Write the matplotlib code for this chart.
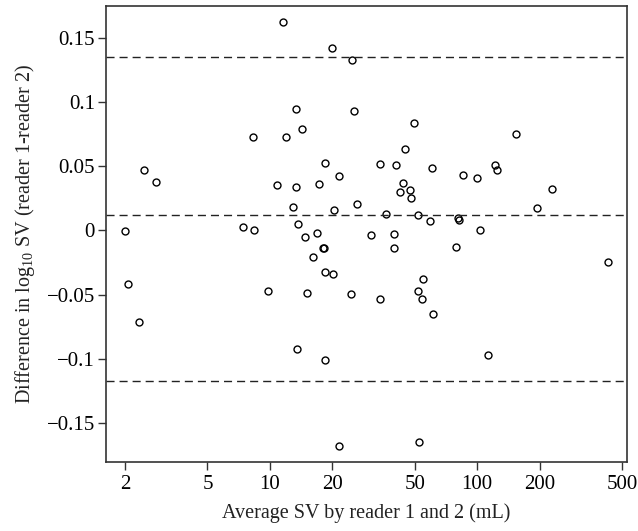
import numpy as np
import matplotlib.pyplot as plt
from matplotlib.ticker import FixedLocator, FixedFormatter, NullLocator

plt.rcParams['font.family'] = ['Liberation Serif', 'DejaVu Serif']
plt.rcParams['mathtext.default'] = 'regular'

# average SV (mL) by reader 1 and 2
avg_sv = [11.60, 2.00, 2.48, 2.81, 8.30, 11.96, 13.33, 14.29, 10.85, 13.38,
          17.20, 12.93, 7.42, 8.41, 13.62, 14.80, 16.91, 16.09, 20.04, 24.98,
          25.54, 49.73, 153.6, 44.94, 18.44, 34.16, 40.58, 60.86, 121.9, 125.0,
          21.66, 85.4, 100.0, 44.10, 42.42, 47.57, 48.10, 229.0, 26.41, 20.31,
          193.9, 36.31, 51.82, 59.07, 80.82, 81.99, 102.8, 30.74, 39.82, 18.08,
          18.20, 39.82, 79.06, 427.6, 18.44, 20.16, 2.06, 2.35, 9.79, 15.05,
          24.62, 33.87, 13.59, 18.50, 21.62, 54.96, 51.98, 54.36, 61.20, 112.4,
          52.68]

# difference in log10 SV (reader 1 - reader 2)
diff_log = [0.1626, -0.0005, 0.0473, 0.0382, 0.0729, 0.0731, 0.0945, 0.0788, 0.0351, 0.0339,
            0.0364, 0.0181, 0.0025, 0.0003, 0.0052, -0.0051, -0.0022, -0.0204, 0.1423, 0.1328,
            0.0936, 0.0840, 0.0749, 0.0635, 0.0524, 0.0518, 0.0507, 0.0488, 0.0510, 0.0471,
            0.0423, 0.0436, 0.0413, 0.0367, 0.0304, 0.0316, 0.0255, 0.0323, 0.0207, 0.0161,
            0.0176, 0.0128, 0.0122, 0.0073, 0.0099, 0.0080, 0.0007, -0.0036, -0.0026, -0.0133,
            -0.0140, -0.0133, -0.0129, -0.0246, -0.0324, -0.0340, -0.0417, -0.0712, -0.0476, -0.0491,
            -0.0496, -0.0533, -0.0927, -0.1012, -0.1679, -0.0377, -0.0473, -0.0533, -0.0652, -0.0975,
            -0.1648]

# mean difference and limits of agreement
ref_lines = [0.1352, 0.0122, -0.1174]

x_ticks = [2, 5, 10, 20, 50, 100, 200, 500]
x_labels = ['2', '5', '10', '20', '50', '100', '200', '500']
y_ticks = [-0.15, -0.1, -0.05, 0, 0.05, 0.1, 0.15]
y_labels = ['\u22120.15', '\u22120.1', '\u22120.05', '0', '0.05', '0.1', '0.15']

fig = plt.figure(figsize=(6.38, 5.31), dpi=100)
ax = fig.add_axes([0.1661, 0.1294, 0.8167, 0.8599])

ax.plot(avg_sv, diff_log, linestyle='none', marker='o', markersize=5,
        markerfacecolor='none', markeredgecolor='black', markeredgewidth=1)

for yv in ref_lines:
    ax.axhline(yv, color='#222222', linewidth=1, dashes=(5.8, 3.6))

ax.set_xscale('log')
ax.set_xlim(1.62, 528)
ax.set_ylim(-0.1809, 0.1754)

ax.xaxis.set_major_locator(FixedLocator(x_ticks))
ax.xaxis.set_major_formatter(FixedFormatter(x_labels))
ax.xaxis.set_minor_locator(NullLocator())
ax.yaxis.set_major_locator(FixedLocator(y_ticks))
ax.yaxis.set_major_formatter(FixedFormatter(y_labels))

ax.tick_params(axis='both', direction='out', length=5.5, width=1,
               color='#333333', labelsize=15, pad=2.5)
ax.tick_params(axis='x', pad=4)
for sp in ax.spines.values():
    sp.set_color('#333333')
    sp.set_linewidth(1.2)

ax.set_xlabel('Average SV by reader 1 and 2 (mL)', fontsize=14.5, labelpad=6, color='#222222')
ax.set_ylabel('Difference in log$_{10}$ SV (reader 1-reader 2)', fontsize=14.5, labelpad=7,
              color='#222222')

fig.savefig('out.png', dpi=100)
